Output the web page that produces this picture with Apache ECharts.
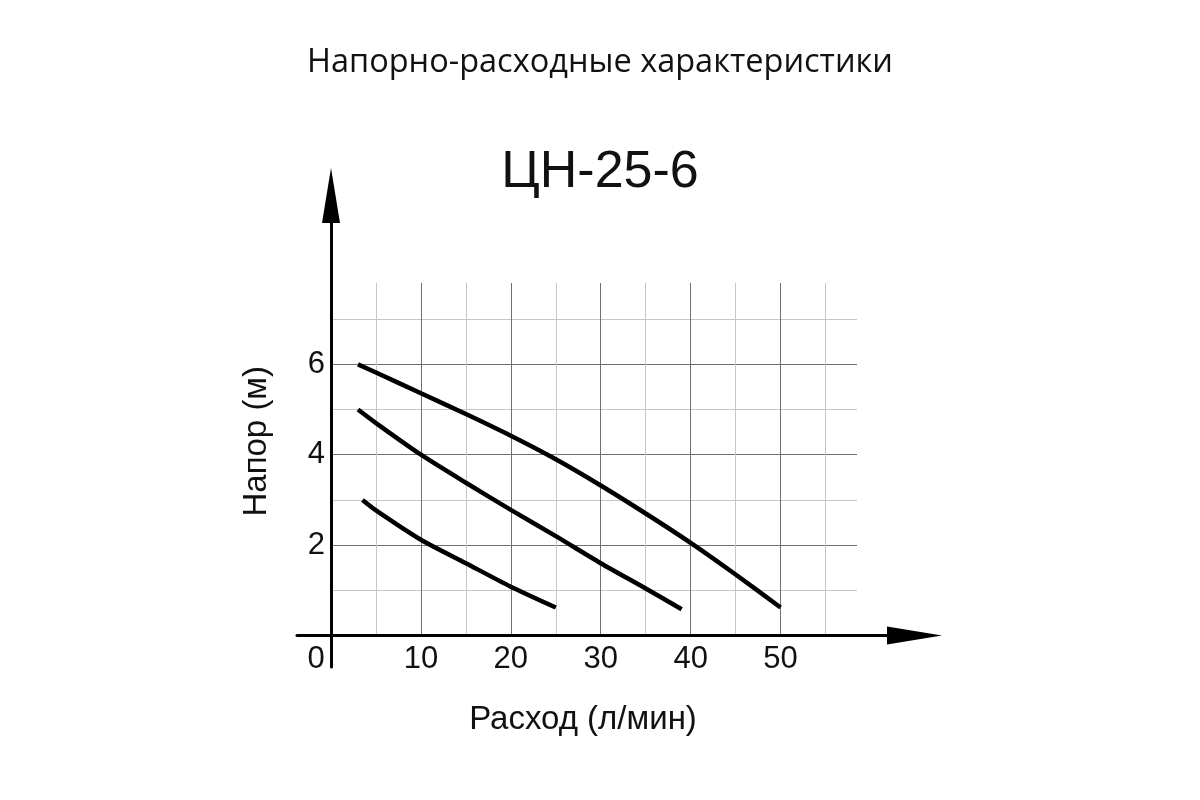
<!DOCTYPE html>
<html>
<head>
<meta charset="utf-8">
<script src="https://cdn.jsdelivr.net/npm/echarts@6/dist/echarts.min.js"></script>
<style>html,body{margin:0;padding:0;background:#fff}#c{width:1200px;height:800px}</style>
</head>
<body>
<div id="c"></div>
<script>
const pageTitle = 'Напорно-расходные характеристики';
const modelName = 'ЦН-25-6';
const xName = 'Расход (л/мин)';
const yName = 'Напор (м)';
const xTickLabels = [0, 10, 20, 30, 40, 50];
const yTickLabels = [2, 4, 6];
const curveHigh = [[3, 6.0], [5, 5.82], [10, 5.36], [15, 4.9], [20, 4.42], [25, 3.9], [30, 3.32], [35, 2.7], [40, 2.05], [45, 1.35], [50, 0.62]];
const curveMid = [[3, 5.0], [5, 4.7], [10, 4.0], [15, 3.38], [20, 2.78], [25, 2.2], [30, 1.6], [35, 1.04], [39, 0.58]];
const curveLow = [[3.5, 3.0], [5, 2.77], [10, 2.12], [15, 1.6], [20, 1.08], [25, 0.62]];

const FONT = 'Liberation Sans';
const MAJOR = '#707070', MINOR = '#c6c6c6';
const chart = echarts.init(document.getElementById('c'), null, {renderer: 'canvas'});

const lineSeries = (d) => ({
  type: 'line', data: d, xAxisIndex: 0, yAxisIndex: 0, smooth: 0.25, showSymbol: false, symbol: 'none',
  lineStyle: {color: '#000', width: 4.5, cap: 'butt'}, silent: true, z: 5
});

chart.setOption({
  backgroundColor: '#fff',
  animation: false,
  title: [
    {text: pageTitle, left: 'center', top: 41, textStyle: {fontFamily: 'Open Sans', fontWeight: 'normal', fontSize: 32.5, color: '#111'}},
    {text: modelName, left: 'center', top: 142, textStyle: {fontFamily: FONT, fontWeight: 'normal', fontSize: 52, color: '#111'}}
  ],
  grid: [
    {left: 331, right: 343, top: 283, bottom: 164.5},
    {left: 297, right: 285.5, top: 283, bottom: 164.5},
    {left: 331, right: 343, top: 195.5, bottom: 133}
  ],
  xAxis: [
    {gridIndex: 0, type: 'value', min: 0, max: 58.5, interval: 5,
     axisLine: {show: false}, axisTick: {show: false},
     splitLine: {show: true, showMinLine: false, showMaxLine: false, lineStyle: {color: [MINOR, MAJOR], width: 1}},
     axisLabel: {margin: 8, fontFamily: FONT, fontSize: 31, color: '#111',
       formatter: (v) => xTickLabels.indexOf(v) < 0 ? '' : (v === 0 ? '{z|0}' : String(v)),
       rich: {z: {fontFamily: FONT, fontSize: 31, color: '#111', padding: [0, 30, 0, 0]}}},
     name: xName, nameLocation: 'middle', nameGap: 68,
     nameTextStyle: {fontFamily: FONT, fontSize: 33, color: '#111', padding: [0, 22, 0, 0]}},
    {gridIndex: 1, type: 'value', min: 0, max: 1, axisTick: {show: false}, axisLabel: {show: false}, splitLine: {show: false},
     axisLine: {show: true, symbol: ['none', 'triangle'], symbolSize: [18, 55], lineStyle: {color: '#000', width: 3}}},
    {gridIndex: 2, type: 'value', show: false, min: 0, max: 1}
  ],
  yAxis: [
    {gridIndex: 0, type: 'value', min: 0, max: 7.8, interval: 1,
     axisLine: {show: false}, axisTick: {show: false},
     splitLine: {show: true, showMinLine: false, showMaxLine: false, lineStyle: {color: [MINOR, MAJOR], width: 1}},
     axisLabel: {margin: 6, fontFamily: FONT, fontSize: 31, color: '#111',
       formatter: (v) => yTickLabels.indexOf(v) < 0 ? '' : String(v)}},
    {gridIndex: 1, type: 'value', show: false, min: 0, max: 1},
    {gridIndex: 2, type: 'value', min: 0, max: 1, axisTick: {show: false}, axisLabel: {show: false}, splitLine: {show: false},
     axisLine: {show: true, symbol: ['none', 'triangle'], symbolSize: [18, 55], lineStyle: {color: '#000', width: 3}},
     name: yName, nameLocation: 'middle', nameGap: 58,
     nameTextStyle: {fontFamily: FONT, fontSize: 33, color: '#111', padding: [0, 20, 0, 0]}}
  ],
  series: [lineSeries(curveHigh), lineSeries(curveMid), lineSeries(curveLow)]
});
</script>
</body>
</html>
